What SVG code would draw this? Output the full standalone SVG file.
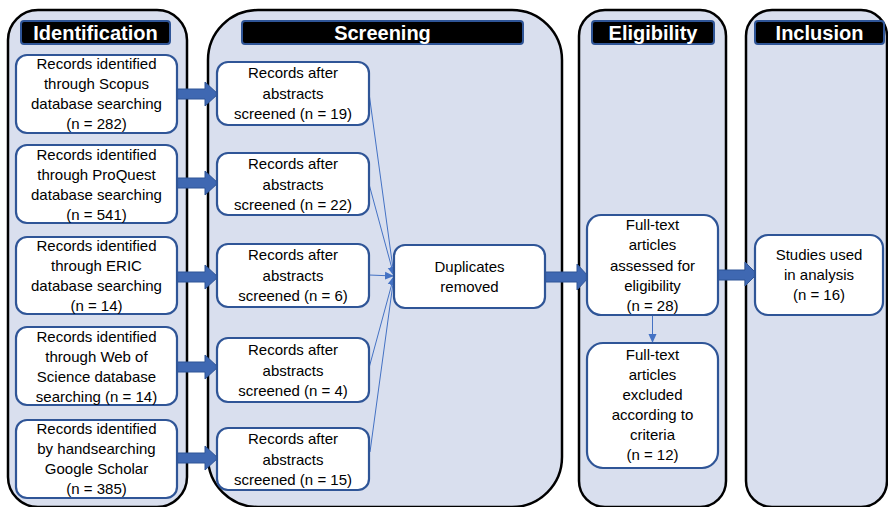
<svg xmlns="http://www.w3.org/2000/svg" width="888" height="507" viewBox="0 0 888 507">
<style>
.panel{fill:#D9DFEE;stroke:#000;stroke-width:2.5}
.hdr{fill:#000;stroke:#2F5597;stroke-width:2}
.htxt{font-family:"Liberation Sans",Arial,sans-serif;font-weight:bold;font-size:20px;fill:#fff;text-anchor:middle}
.box{fill:#fff;stroke:#2F5597;stroke-width:2.2}
.t{font-family:"Liberation Sans",Arial,sans-serif;font-size:15px;fill:#000;text-anchor:middle}
.big{fill:#3F68B2;stroke:#2F5597;stroke-width:1}
.thin{stroke:#4472C4;stroke-width:1;fill:none;marker-end:url(#ah)}
</style>
<defs>
<marker id="ah" markerWidth="10" markerHeight="10" refX="9" refY="5" orient="auto" markerUnits="userSpaceOnUse">
<path d="M0,1 L9,5 L0,9 z" fill="#4472C4"/>
</marker>
</defs>
<rect width="888" height="507" fill="#fff"/>
<g id="panels">
<rect class="panel" x="8" y="10" width="179" height="497" rx="30"/>
<rect class="panel" x="208" y="10" width="354" height="497" rx="50"/>
<rect class="panel" x="579" y="10" width="147" height="497" rx="26"/>
<rect class="panel" x="746" y="10" width="141" height="497" rx="26"/>
<rect class="hdr" x="21" y="21" width="149" height="23" rx="3"/>
<text class="htxt" x="95.5" y="40">Identification</text>
<rect class="hdr" x="242" y="21" width="281" height="23" rx="3"/>
<text class="htxt" x="382.5" y="40">Screening</text>
<rect class="hdr" x="592" y="21" width="122" height="23" rx="3"/>
<text class="htxt" x="653" y="40">Eligibility</text>
<rect class="hdr" x="755" y="21" width="129" height="23" rx="3"/>
<text class="htxt" x="819.5" y="40">Inclusion</text>
</g>
<g id="connectors">
<path class="big" d="M177,89 H205 V82 L218,94 L205,106 V99 H177 z"/>
<path class="big" d="M177,178 H205 V171 L218,183 L205,195 V188 H177 z"/>
<path class="big" d="M177,272 H205 V265 L218,277 L205,289 V282 H177 z"/>
<path class="big" d="M177,362 H205 V355 L218,367 L205,379 V372 H177 z"/>
<path class="big" d="M177,453 H205 V446 L218,458 L205,470 V463 H177 z"/>
<path class="big" d="M545,272 H577 V264 L589,277 L577,290 V282 H545 z"/>
<path class="big" d="M718,270 H745 V262 L757,274 L745,286 V280 H718 z"/>
<line class="thin" x1="369" y1="93" x2="394" y2="276"/>
<line class="thin" x1="369" y1="184" x2="394" y2="276"/>
<line class="thin" x1="369" y1="275" x2="394" y2="276"/>
<line class="thin" x1="369" y1="368" x2="394" y2="276"/>
<line class="thin" x1="370" y1="452" x2="394" y2="276"/>
<line class="thin" x1="652.5" y1="315" x2="652.5" y2="343"/>
</g>
<g id="n-scopus">
<rect class="box" x="16" y="55" width="161" height="78" rx="11"/>
<text class="t" x="96.5" y="69">Records identified</text>
<text class="t" x="96.5" y="89">through Scopus</text>
<text class="t" x="96.5" y="109">database searching</text>
<text class="t" x="96.5" y="129">(n = 282)</text>
</g>
<g id="n-proquest">
<rect class="box" x="16" y="145" width="161" height="78" rx="11"/>
<text class="t" x="96.5" y="160">Records identified</text>
<text class="t" x="96.5" y="180">through ProQuest</text>
<text class="t" x="96.5" y="200">database searching</text>
<text class="t" x="96.5" y="220">(n = 541)</text>
</g>
<g id="n-eric">
<rect class="box" x="16" y="237" width="161" height="77" rx="11"/>
<text class="t" x="96.5" y="251">Records identified</text>
<text class="t" x="96.5" y="271">through ERIC</text>
<text class="t" x="96.5" y="291">database searching</text>
<text class="t" x="96.5" y="311">(n = 14)</text>
</g>
<g id="n-wos">
<rect class="box" x="16" y="327" width="161" height="78" rx="11"/>
<text class="t" x="96.5" y="342">Records identified</text>
<text class="t" x="96.5" y="362">through Web of</text>
<text class="t" x="96.5" y="382">Science database</text>
<text class="t" x="96.5" y="402">searching (n = 14)</text>
</g>
<g id="n-google">
<rect class="box" x="16" y="420" width="161" height="78" rx="11"/>
<text class="t" x="96.5" y="434">Records identified</text>
<text class="t" x="96.5" y="454">by handsearching</text>
<text class="t" x="96.5" y="474">Google Scholar</text>
<text class="t" x="96.5" y="494">(n = 385)</text>
</g>
<g id="s1">
<rect class="box" x="217" y="62" width="152" height="63" rx="11"/>
<text class="t" x="293" y="78">Records after</text>
<text class="t" x="293" y="99">abstracts</text>
<text class="t" x="293" y="119">screened (n = 19)</text>
</g>
<g id="s2">
<rect class="box" x="217" y="153" width="152" height="62" rx="11"/>
<text class="t" x="293" y="169">Records after</text>
<text class="t" x="293" y="190">abstracts</text>
<text class="t" x="293" y="210">screened (n = 22)</text>
</g>
<g id="s3">
<rect class="box" x="217" y="244" width="152" height="63" rx="11"/>
<text class="t" x="293" y="260">Records after</text>
<text class="t" x="293" y="281">abstracts</text>
<text class="t" x="293" y="301">screened (n = 6)</text>
</g>
<g id="s4">
<rect class="box" x="217" y="338" width="152" height="64" rx="11"/>
<text class="t" x="293" y="355">Records after</text>
<text class="t" x="293" y="376">abstracts</text>
<text class="t" x="293" y="396">screened (n = 4)</text>
</g>
<g id="s5">
<rect class="box" x="217" y="428" width="152" height="62" rx="11"/>
<text class="t" x="293" y="444">Records after</text>
<text class="t" x="293" y="465">abstracts</text>
<text class="t" x="293" y="485">screened (n = 15)</text>
</g>
<g id="dup">
<rect class="box" x="394" y="245" width="151" height="63" rx="11"/>
<text class="t" x="469.5" y="272">Duplicates</text>
<text class="t" x="469.5" y="292">removed</text>
</g>
<g id="fulltext">
<rect class="box" x="587" y="215" width="131" height="100" rx="14"/>
<text class="t" x="652.5" y="230">Full-text</text>
<text class="t" x="652.5" y="250">articles</text>
<text class="t" x="652.5" y="271">assessed for</text>
<text class="t" x="652.5" y="291">eligibility</text>
<text class="t" x="652.5" y="311">(n = 28)</text>
</g>
<g id="excluded">
<rect class="box" x="587" y="343" width="131" height="125" rx="16"/>
<text class="t" x="652.5" y="360">Full-text</text>
<text class="t" x="652.5" y="380">articles</text>
<text class="t" x="652.5" y="400">excluded</text>
<text class="t" x="652.5" y="420">according to</text>
<text class="t" x="652.5" y="440">criteria</text>
<text class="t" x="652.5" y="460">(n = 12)</text>
</g>
<g id="studies">
<rect class="box" x="755" y="235" width="128" height="80" rx="13"/>
<text class="t" x="819" y="260">Studies used</text>
<text class="t" x="819" y="280">in analysis</text>
<text class="t" x="819" y="300">(n = 16)</text>
</g>
</svg>
